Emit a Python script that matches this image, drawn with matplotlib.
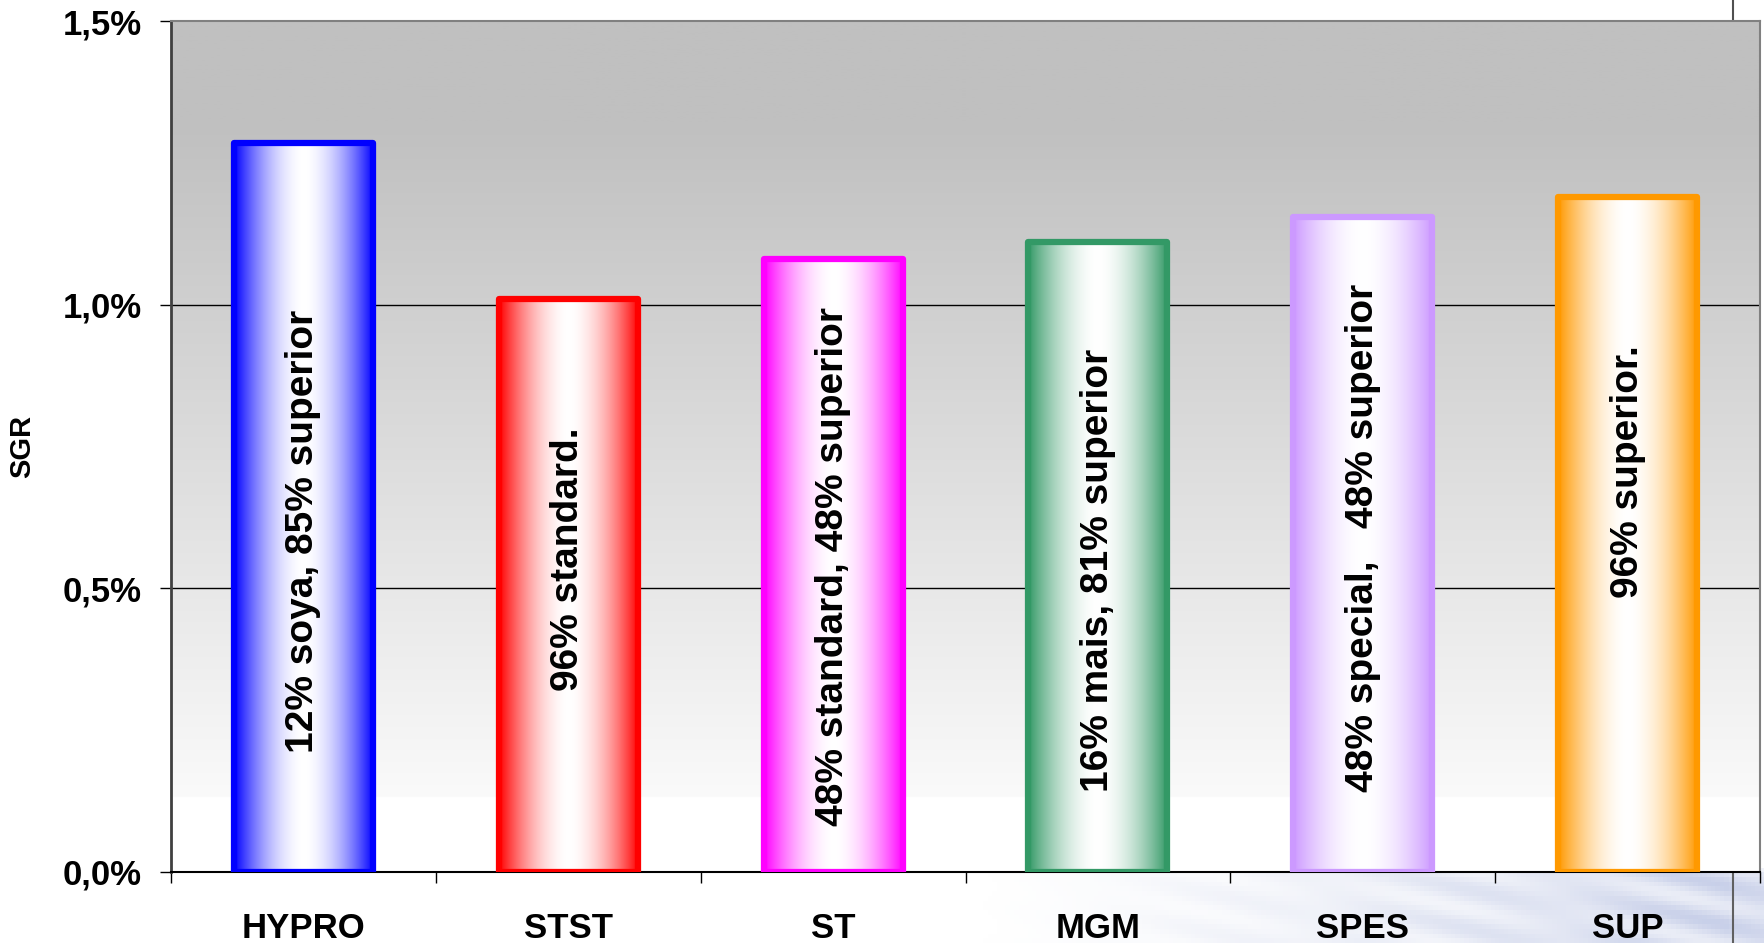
import numpy as np
import matplotlib.pyplot as plt
from matplotlib.colors import to_rgb
from matplotlib.ticker import FuncFormatter

# diets and specific growth rate (%/day)
diets = ["HYPRO", "STST", "ST", "MGM", "SPES", "SUP"]
sgr = [1.285, 1.01, 1.08, 1.11, 1.155, 1.19]
compositions = [
    "12% soya, 85% superior",
    "96% standard.",
    "48% standard, 48% superior",
    "16% mais, 81% superior",
    "48% special,   48% superior",
    "96% superior.",
]
bar_colors = ["#0000FF", "#FF0000", "#FF00FF", "#339966", "#CC99FF", "#FF9900"]
# vertical centre of each composition label (SGR units)
label_centres = [0.60, 0.552, 0.539, 0.532, 0.589, 0.705]

plt.rcParams['font.family'] = ['Liberation Sans', 'DejaVu Sans']
plt.rcParams['font.weight'] = 'bold'

fig = plt.figure(figsize=(17.64, 9.43), dpi=100)

# faint bluish backdrop in the lower right corner
bg = fig.add_axes([0, 0, 1, 1], zorder=-5)
bg.set_axis_off()
xs = np.linspace(0, 1, 400)
ys = np.linspace(0, 1, 200)
X, Y = np.meshgrid(xs, ys)
band = np.clip((0.08 - Y) / 0.01, 0, 1)
strength = np.clip((X - 0.55) / 0.45, 0, 1) ** 1.3 * band
strength = np.where(X > 1733 / 1764, 0.9 * band, strength)
wave = 0.7 + 0.3 * np.sin(X * 60 + Y * 150) * np.cos(X * 23)
rgba = np.zeros((200, 400, 4))
rgba[..., :3] = to_rgb("#a8b4dc")
rgba[..., 3] = strength * wave * 0.7
bg.imshow(rgba, extent=(0, 1, 0, 1), origin='lower', aspect='auto')
bg.set_xlim(0, 1)
bg.set_ylim(0, 1)
bg.plot([1733 / 1764, 1733 / 1764], [1, 1 - 21 / 943], color="#505050", lw=1.5)
bg.plot([1733 / 1764, 1733 / 1764], [0, 71 / 943], color="#606060", lw=1.5)

ax = fig.add_axes([171 / 1764, 71 / 943, 1589 / 1764, 851 / 943])

# plot-area fill: grey at the top fading to white near the base
frac = np.linspace(0, 1, 500)
shade = np.where(frac > 0.88, 192,
                 np.where(frac > 0.088, 192 + (0.88 - frac) / 0.792 * 58, 255))
grad = np.repeat(shade[:, None], 2, axis=1) / 255.0
ax.imshow(np.dstack([grad, grad, grad]), extent=(0, 1, 0, 1), origin='lower',
          aspect='auto', transform=ax.transAxes, zorder=0)

for level in [0.5, 1.0]:
    ax.axhline(level, color='black', lw=1, zorder=1)

x = np.arange(len(diets))
width = 0.525
bars = ax.bar(x, sgr, width=width, color='none', edgecolor=bar_colors,
              linewidth=4.5, joinstyle='round', zorder=3)

# cylinder-like horizontal shading inside each bar
u = np.linspace(0, 1, 256)
weight = (np.abs(u - 0.5) / 0.5) ** 1.8
for xi, val, col, bar in zip(x, sgr, bar_colors, bars):
    c = np.array(to_rgb(col))
    row = 1 - weight[:, None] * (1 - c[None, :])
    img = np.repeat(row[None, :, :], 2, axis=0)
    im = ax.imshow(img, extent=(xi - width / 2, xi + width / 2, 0, val),
                   aspect='auto', zorder=2)
    im.set_clip_path(bar)

for xi, text, yc in zip(x, compositions, label_centres):
    ax.text(xi, yc, text, rotation=90, ha='center', va='center',
            fontsize=28, fontweight='bold', color='black', zorder=4)

ax.set_xlim(-0.5, len(diets) - 0.5)
ax.set_ylim(0, 1.5)

ax.set_yticks([0, 0.5, 1.0, 1.5])
ax.yaxis.set_major_formatter(FuncFormatter(lambda v, p: f"{v:.1f}%".replace('.', ',')))
ax.tick_params(axis='y', direction='out', length=8, width=1, pad=13, labelsize=25)

ax.set_xticks(x)
ax.set_xticklabels(diets)
ax.set_xticks(np.arange(len(diets) + 1) - 0.5, minor=True)
ax.tick_params(axis='x', which='major', length=0, pad=29, labelsize=25)
ax.tick_params(axis='x', which='minor', direction='out', length=8, width=1)

ax.set_ylabel("SGR", fontsize=21, fontweight='bold')
ax.yaxis.set_label_coords(-0.085, 0.5)

ax.spines['left'].set_color('#404040')
ax.spines['left'].set_linewidth(2)
ax.spines['bottom'].set_color('black')
ax.spines['bottom'].set_linewidth(1.5)
ax.spines['top'].set_color('#808080')
ax.spines['top'].set_linewidth(1.5)
ax.spines['right'].set_color('#808080')
ax.spines['right'].set_linewidth(1.5)

fig.savefig("out.png", dpi=100)
